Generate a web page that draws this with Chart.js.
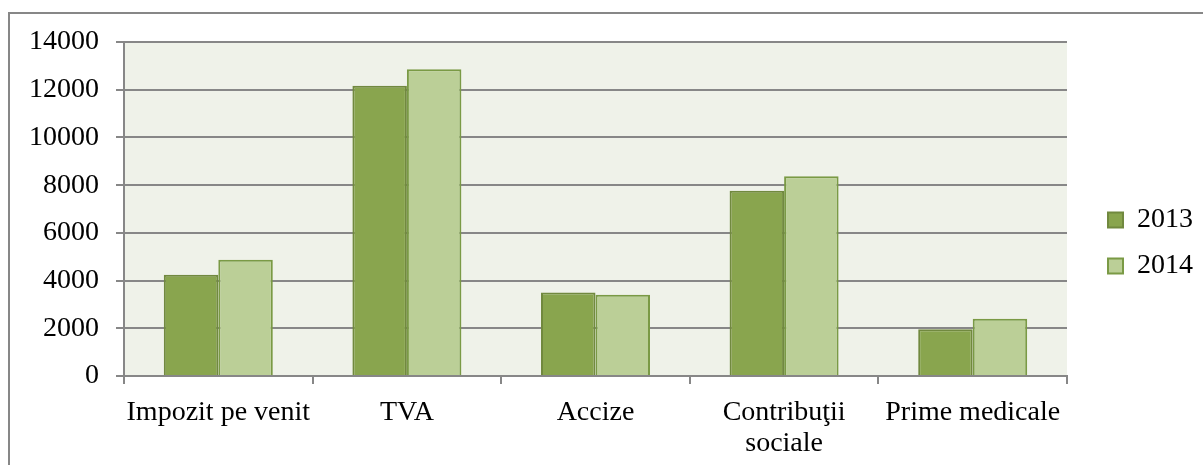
<!DOCTYPE html>
<html>
<head>
<meta charset="utf-8">
<script src="https://cdn.jsdelivr.net/npm/chart.js@4"></script>
<style>
  html, body { margin: 0; padding: 0; width: 1203px; height: 465px; overflow: hidden; background: #fff; }
  #frame { position: absolute; left: 8px; top: 12px; width: 1300px; height: 600px; border: 2px solid #878787; box-sizing: border-box; }
  #wrap { position: absolute; left: 0; top: 0; width: 1203px; height: 465px; }
</style>
</head>
<body>
<div id="frame"></div>
<div id="wrap"><canvas id="c" width="1203" height="465"></canvas></div>
<script>
const categories = ['Impozit pe venit', 'TVA', 'Accize', ['Contribuţii', 'sociale'], 'Prime medicale'];
const seriesNames = ['2013', '2014'];
const values2013 = [4240, 12170, 3500, 7770, 1960];
const values2014 = [4870, 12860, 3410, 8370, 2400];
const yMax = 14000;
const yStep = 2000;

const plotBg = {
  id: 'plotBg',
  beforeDraw(chart) {
    const {ctx, chartArea: a} = chart;
    ctx.save();
    ctx.fillStyle = '#EFF2E9';
    ctx.fillRect(a.left, a.top, a.right - a.left, a.bottom - a.top);
    ctx.restore();
  }
};

const font = { family: '"Liberation Serif", "Times New Roman", serif', size: 28, lineHeight: 1.08 };

new Chart(document.getElementById('c'), {
  type: 'bar',
  data: {
    labels: categories,
    datasets: [
      { label: seriesNames[0], data: values2013, backgroundColor: '#89A54E', borderColor: '#71893F', borderWidth: 2 },
      { label: seriesNames[1], data: values2014, backgroundColor: '#BBCF97', borderColor: '#7A9A45', borderWidth: 2 }
    ]
  },
  options: {
    responsive: false,
    animation: false,
    layout: { padding: { top: 42, bottom: 4, left: 0, right: 0 } },
    datasets: { bar: { barPercentage: 1.0, categoryPercentage: 0.578 } },
    scales: {
      x: {
        grid: { display: true, drawOnChartArea: false, drawTicks: true, tickLength: 8, color: '#878787', lineWidth: 2, offset: true },
        border: { display: true, color: '#878787', width: 2 },
        ticks: { font: font, color: '#000', padding: 14, maxRotation: 0, autoSkip: false },
        afterFit(scale) { scale.height = 85; }
      },
      y: {
        min: 0, max: yMax,
        grid: { color: '#878787', lineWidth: 2, tickLength: 8, drawTicks: true },
        border: { display: true, color: '#878787', width: 2 },
        ticks: { stepSize: yStep, font: font, color: '#000', padding: 17, callback: (v) => String(v) },
        afterFit(scale) { scale.width = 124; }
      },
      spacer: {
        type: 'linear', position: 'right', display: true,
        grid: { display: false, drawTicks: false }, border: { display: false },
        ticks: { display: false },
        afterFit(scale) { scale.width = 23; }
      }
    },
    plugins: {
      legend: {
        position: 'right',
        align: 'start',
        title: { display: true, text: '', font: { size: 10, lineHeight: 1.2 }, padding: { top: 134, bottom: 0 } },
        labels: { font: font, color: '#000', boxWidth: 15, boxHeight: 15, padding: 18 }
      },
      tooltip: { enabled: false }
    }
  },
  plugins: [plotBg]
});
</script>
</body>
</html>
